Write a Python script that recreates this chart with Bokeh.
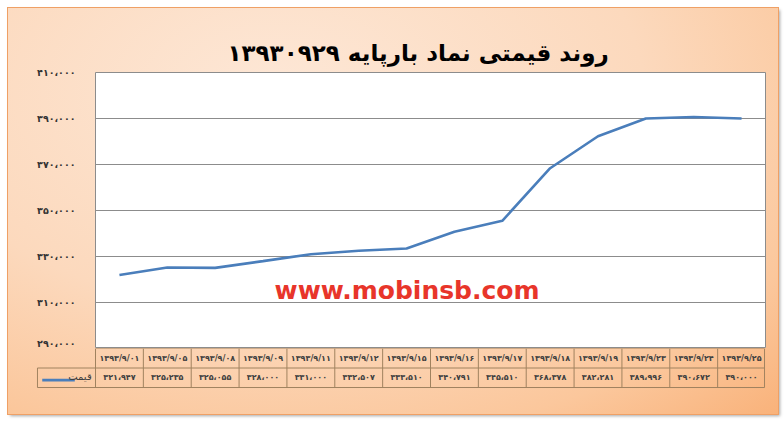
from bokeh.plotting import figure
from bokeh.models import Range1d, FixedTicker, ColumnDataSource, Label
from bokeh.layouts import column
from bokeh.embed import file_html
from bokeh.resources import INLINE
from bokeh.core.properties import value

# ---------------- data ----------------
dates = ["۱۳۹۳/۹/۰۱", "۱۳۹۳/۹/۰۵", "۱۳۹۳/۹/۰۸", "۱۳۹۳/۹/۰۹", "۱۳۹۳/۹/۱۱",
         "۱۳۹۳/۹/۱۲", "۱۳۹۳/۹/۱۵", "۱۳۹۳/۹/۱۶", "۱۳۹۳/۹/۱۷", "۱۳۹۳/۹/۱۸",
         "۱۳۹۳/۹/۱۹", "۱۳۹۳/۹/۲۳", "۱۳۹۳/۹/۲۴", "۱۳۹۳/۹/۲۵"]
prices = [321947, 325235, 325055, 328000, 331000, 332507, 333510, 340791,
          345510, 368378, 382281, 389996, 390672, 390000]
y_ticks = [290000, 310000, 330000, 350000, 370000, 390000, 410000]
series_name = "قیمت"
title_text = "روند قیمتی نماد بارپایه ۱۳۹۳۰۹۲۹"
watermark = "www.mobinsb.com"

FA = str.maketrans("0123456789", "۰۱۲۳۴۵۶۷۸۹")


def fa_num(v):
    return f"{v:,}".replace(",", "،").translate(FA)


n = len(prices)
xs = [i + 0.5 for i in range(n)]
FONT = "DejaVu Sans"
GRID = "#8C8C8C"
TABLE_LINE = "#A0825F"

# ---------------- chart figure ----------------
p = figure(width=770, height=340, output_backend="svg", toolbar_location=None,
           x_range=Range1d(0, n), y_range=Range1d(y_ticks[0], y_ticks[-1]),
           min_border_left=87, min_border_right=13, min_border_top=64,
           min_border_bottom=0)
p.frame_align = False
p.border_fill_alpha = 0
p.background_fill_color = "white"
p.outline_line_color = GRID
p.outline_line_width = 1
p.xaxis.visible = False
p.xgrid.visible = False
p.ygrid.grid_line_color = GRID
p.ygrid.grid_line_width = 1
p.yaxis.ticker = FixedTicker(ticks=y_ticks)
p.yaxis.major_label_overrides = {t: fa_num(t) for t in y_ticks}
p.yaxis.axis_line_color = None
p.yaxis.major_tick_line_color = None
p.yaxis.minor_tick_line_color = None
p.yaxis.major_label_standoff = 14
p.yaxis.major_label_text_font = FONT
p.yaxis.major_label_text_font_size = "9.5px"
p.yaxis.major_label_text_font_style = "bold"
p.yaxis.major_label_text_color = "#333333"

p.title.text = title_text
p.title.align = "left"
p.title.offset = 132
p.title.text_font = FONT
p.title.text_font_size = "23px"
p.title.text_font_style = "bold"
p.title.text_color = "#000000"
p.title.standoff = 14

src = ColumnDataSource(dict(x=xs, y=prices))
p.line("x", "y", source=src, line_color="#4A7EBB", line_width=2.6)

p.add_layout(Label(x=n * 0.465, y=y_ticks[1] + 5200,
                   text=watermark, text_font=FONT, text_font_style="bold",
                   text_font_size="25px", text_color="#E8352A",
                   text_align="center", text_baseline="middle"))

# ---------------- data table figure ----------------
cw = 670 / n
x_start = -(95 - 36) / cw
t = figure(width=770, height=66, output_backend="svg", toolbar_location=None,
           x_range=Range1d(x_start, n), y_range=Range1d(-0.05, 2.0),
           min_border_left=28, min_border_right=13, min_border_top=0,
           min_border_bottom=26)
t.frame_align = False
t.border_fill_alpha = 0
t.background_fill_alpha = 0
t.outline_line_color = None
t.axis.visible = False
t.grid.visible = False

leg_left = x_start + 0.02
right_edge = n - 0.02
# horizontal table lines
t.segment(x0=[0, leg_left, leg_left], y0=[2, 1, 0],
          x1=[right_edge] * 3, y1=[2, 1, 0],
          line_color=TABLE_LINE, line_width=1)
# vertical table lines
vx = list(range(n)) + [right_edge]
t.segment(x0=vx, y0=[0] * len(vx), x1=vx, y1=[2] * len(vx),
          line_color=TABLE_LINE, line_width=1)
t.segment(x0=[leg_left], y0=[0], x1=[leg_left], y1=[1],
          line_color=TABLE_LINE, line_width=1)

tsrc = ColumnDataSource(dict(x=xs, d=dates, v=[fa_num(v) for v in prices],
                             yd=[1.5] * n, yv=[0.5] * n))
t.text("x", "yd", text="d", source=tsrc, text_font=value(FONT),
       text_font_size="8px", text_font_style="bold", text_color="#404040",
       text_align="center", text_baseline="middle")
t.text("x", "yv", text="v", source=tsrc, text_font=value(FONT),
       text_font_size="8px", text_font_style="bold", text_color="#404040",
       text_align="center", text_baseline="middle")

# legend key in first column
t.line(x=[leg_left + 0.1, leg_left + 0.78], y=[0.38, 0.38],
       line_color="#4A7EBB", line_width=2.6)
t.text(x=[-0.08], y=[0.58], text=[series_name], text_font=value(FONT),
       text_font_size="10px", text_color="#404040",
       text_align="right", text_baseline="middle")

layout = column(p, t, spacing=0)
layout.styles = {
    "margin-left": "8px",
    "margin-top": "8px",
    "background": "radial-gradient(ellipse 95% 110% at 35% 20%, #FDE7D6 0%, #FCD9BD 50%, #FBC79C 80%, #F9B27A 100%)",
    "outline": "1px solid #EFA065",
    "box-shadow": "2px 2px 3px rgba(0,0,0,0.35)",
}

open("out.html", "w").write(file_html(layout, INLINE))
